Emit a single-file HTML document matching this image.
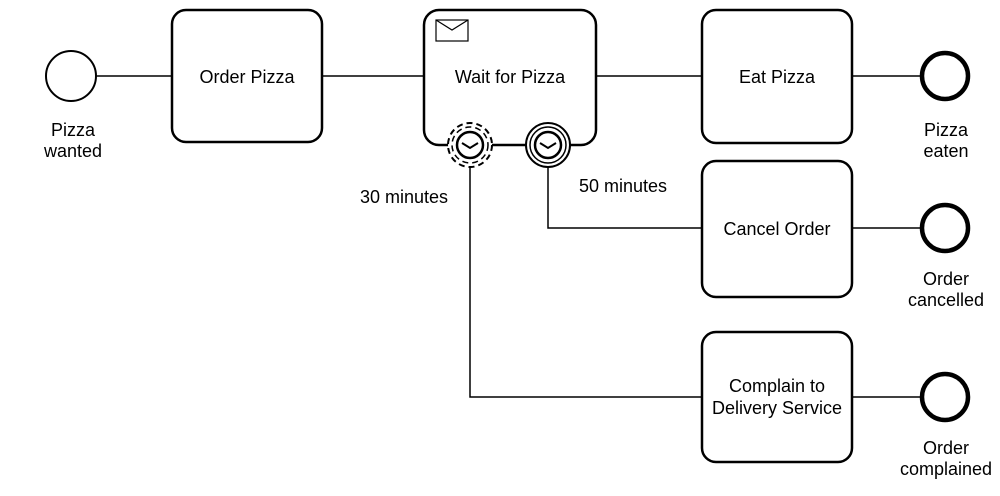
<!DOCTYPE html>
<html><head><style>body{margin:0;background:#fff}svg{display:block}text{font-family:"Liberation Sans",Arial,sans-serif;font-size:18px;fill:#000;text-anchor:middle}</style></head><body>
<svg width="1000" height="496" viewBox="0 0 1000 496">
<g stroke="#000" fill="none" stroke-width="1.5">
<path d="M96 76H172M322 76H424M596 76H702M852 76H920M852 228H920M852 397H920"/>
<path d="M548 166V228H702M470 166V397H702"/>
</g>
<g stroke="#000" fill="#fff" stroke-width="2.5">
<circle cx="71" cy="76" r="25" stroke-width="2"/>
<rect x="172" y="10" width="150" height="132" rx="14"/>
<rect x="424" y="10" width="172" height="135" rx="15"/>
<rect x="702" y="10" width="150" height="133" rx="14"/>
<rect x="702" y="161" width="150" height="136" rx="14"/>
<rect x="702" y="332" width="150" height="130" rx="14"/>
<circle cx="945" cy="76" r="23" stroke-width="4.5"/>
<circle cx="945" cy="228" r="23" stroke-width="4.5"/>
<circle cx="945" cy="397" r="23" stroke-width="4.5"/>
</g>
<rect x="436" y="20" width="32" height="21" fill="#fff" stroke="#000" stroke-width="1.2"/>
<path d="M436 20L452 30L468 20" fill="none" stroke="#000" stroke-width="1.2"/>
<g fill="#fff" stroke="#000">
<circle cx="470" cy="145" r="22" stroke-width="2" stroke-dasharray="6 4"/>
<circle cx="470" cy="145" r="18" stroke-width="1.5" stroke-dasharray="6 4"/>
<circle cx="470" cy="145" r="13" stroke-width="2.5"/>
<circle cx="548" cy="145" r="22" stroke-width="2"/>
<circle cx="548" cy="145" r="18" stroke-width="1.5"/>
<circle cx="548" cy="145" r="13" stroke-width="2.5"/>
</g>
<path d="M462 143L470 148L478 143M540 143L548 148L556 143" fill="none" stroke="#000" stroke-width="2"/>
<text x="247" y="83">Order Pizza</text>
<text x="510" y="83">Wait for Pizza</text>
<text x="777" y="83">Eat Pizza</text>
<text x="777" y="235">Cancel Order</text>
<text x="777" y="392">Complain to</text>
<text x="777" y="414">Delivery Service</text>
<text x="73" y="136">Pizza</text>
<text x="73" y="157">wanted</text>
<text x="946" y="136">Pizza</text>
<text x="946" y="157">eaten</text>
<text x="946" y="285">Order</text>
<text x="946" y="306">cancelled</text>
<text x="946" y="454">Order</text>
<text x="946" y="475">complained</text>
<text x="404" y="203">30 minutes</text>
<text x="623" y="192">50 minutes</text>
</svg>
</body></html>
